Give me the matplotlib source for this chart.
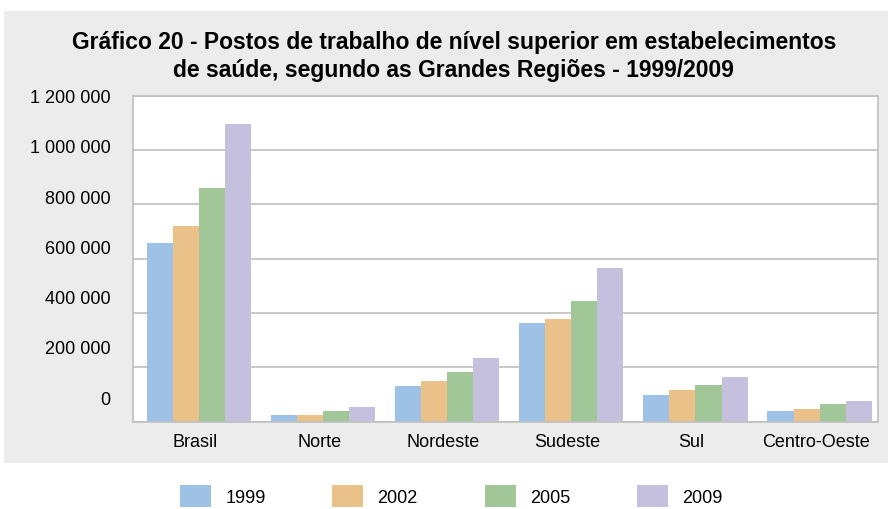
import matplotlib
matplotlib.use("Agg")
import matplotlib.pyplot as plt
import numpy as np
from matplotlib.patches import Patch, Rectangle

# data
regioes = ["Brasil", "Norte", "Nordeste", "Sudeste", "Sul", "Centro-Oeste"]
anos = ["1999", "2002", "2005", "2009"]
v1999 = [658000, 25000, 131000, 363000, 98000, 39000]
v2002 = [721000, 25000, 150000, 378000, 117000, 47000]
v2005 = [861000, 39000, 183000, 444000, 135000, 65000]
v2009 = [1096000, 54000, 234000, 566000, 164000, 76000]
yticks = [0, 200000, 400000, 600000, 800000, 1000000, 1200000]
ylabels = ["0", "200 000", "400 000", "600 000", "800 000", "1 000 000", "1 200 000"]

cores = ["#9DC2E6", "#E9C189", "#A1C697", "#C4C0DD"]
series = [v1999, v2002, v2005, v2009]

plt.rcParams['font.family'] = ['Liberation Sans', 'DejaVu Sans']

fig = plt.figure(figsize=(8.88, 5.10), dpi=100)
# gray panel behind the chart
fig.patches.append(Rectangle((4/888, 46/510), 1, 452/510, transform=fig.transFigure,
                             facecolor="#ECECEC", edgecolor="none", zorder=-5))

ax = fig.add_axes([133/888, 87.3/510, 745/888, 326/510])
ax.set_facecolor("white")

x = np.arange(len(regioes))
w = 0.21
for i, vals in enumerate(series):
    ax.bar(x + (i - 1.5) * w + 0.03, vals, width=w, color=cores[i], label=anos[i], zorder=2)

ax.set_xlim(-0.5, len(regioes) - 0.5)
ax.set_ylim(0, 1200000)
ax.set_yticks(yticks)
ax.set_yticklabels([])
ax.grid(axis="y", color="#BFBFBF", linewidth=1.2, zorder=1)
ax.tick_params(axis="y", length=0)
ax.set_xticks(x)
ax.set_xticklabels(regioes, fontsize=13)
ax.tick_params(axis="x", length=0, pad=8)
for s in ax.spines.values():
    s.set_color("#BFBFBF")
    s.set_linewidth(1.2)

# the labels in the original sit a bit above their gridlines
ax2 = ax.twinx()
ax2.set_ylim(-98000, 1197000)
ax2.yaxis.set_ticks_position("left")
ax2.set_yticks(yticks)
ax2.set_yticklabels(ylabels, fontsize=13)
ax2.tick_params(axis="y", length=0, pad=16)
for s in ax2.spines.values():
    s.set_visible(False)

fig.text(0.511, 0.889, "Gráfico 20 - Postos de trabalho de nível superior em estabelecimentos\n"
         "de saúde, segundo as Grandes Regiões - 1999/2009",
         ha="center", va="center", fontsize=16.5, fontweight="bold", linespacing=1.3)

handles = [Patch(facecolor=c, edgecolor="none") for c in cores]
fig.legend(handles, anos, loc="center", bbox_to_anchor=(0.508, 0.026), ncol=4, frameon=False,
           fontsize=13, handlelength=1.72, handleheight=1.5, handletextpad=0.78,
           columnspacing=3.7, borderpad=0)

fig.savefig("out.png", dpi=100)
